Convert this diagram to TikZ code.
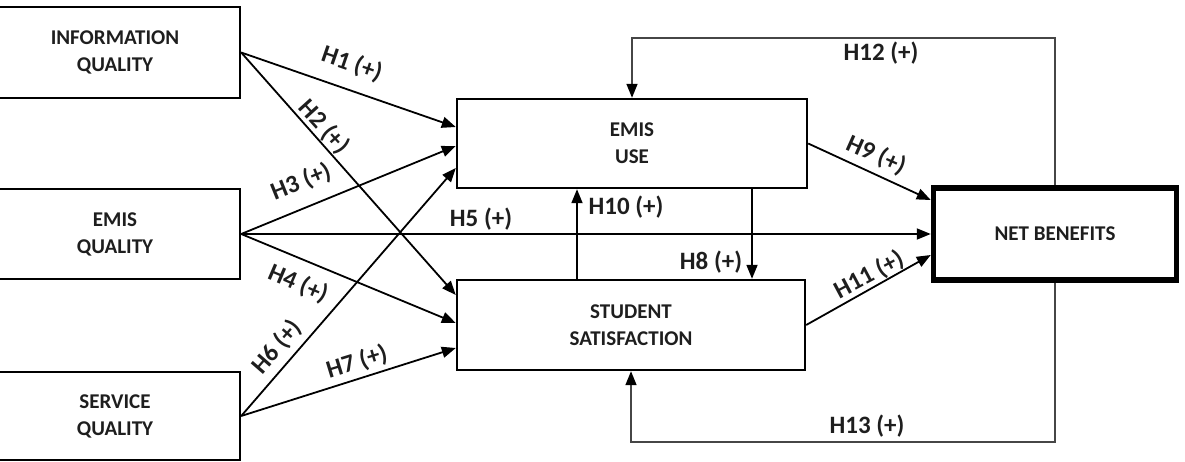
\documentclass[tikz,border=0pt]{standalone}
\usepackage{fontspec}
\setmainfont{Carlito}
\usetikzlibrary{arrows.meta,calc}
\definecolor{txt}{RGB}{30,30,30}
\definecolor{fbline}{RGB}{70,70,70}
\tikzset{
  box/.style={draw=black, line width=2.4pt, fill=white, rectangle, inner sep=0pt,
    align=center, text=txt, font=\fontsize{21}{27}\selectfont\bfseries},
  arr/.style={line width=1.8pt, -{Triangle[length=14pt,width=11pt]}},
  fb/.style={draw=fbline, line width=1.5pt, -{Triangle[length=14pt,width=11pt,fill=black,color=black]}},
  lbl/.style={text=txt, font=\fontsize{25}{28}\selectfont\bfseries, inner sep=0pt}
}
\begin{document}
\begin{tikzpicture}[x=1pt,y=-1pt]
\useasboundingbox (0,0) rectangle (1185,462);
% boxes
\node[box, minimum width=250pt, minimum height=91pt] (info) at (115,52.5) {INFORMATION\\QUALITY};
\node[box, minimum width=250pt, minimum height=90pt] (eq) at (115,234) {EMIS\\QUALITY};
\node[box, minimum width=250pt, minimum height=88pt] (sq) at (115,416) {SERVICE\\QUALITY};
\node[box, minimum width=350pt, minimum height=89pt] (use) at (632,143.5) {EMIS\\USE};
\node[box, minimum width=348pt, minimum height=90pt] (sat) at (631,325) {STUDENT\\SATISFACTION};
\node[box, line width=5.5pt, minimum width=243pt, minimum height=92pt] (net) at (1055,234) {NET BENEFITS};
% helper coordinates
\coordinate (h10x) at (577,0);
\coordinate (h8x) at (752,0);
\coordinate (tp) at (0,38);
\coordinate (bt) at (0,442);
% arrows into EMIS USE
\draw[arr] (info.east) -- ([yshift=16.5pt]use.west);
\draw[arr] (eq.east) -- ([yshift=-2.5pt]use.west);
\draw[arr] (sq.east) -- ([yshift=-24.5pt]use.west);
% arrows into STUDENT SATISFACTION
\draw[arr] (info.east) -- ([yshift=30pt]sat.west);
\draw[arr] (eq.east) -- ([yshift=2pt]sat.west);
\draw[arr] (sq.east) -- ([yshift=-23pt]sat.west);
% H5
\draw[arr] (eq.east) -- (net.west);
% H10, H8
\draw[arr] (sat.north -| h10x) -- (use.south -| h10x);
\draw[arr] (use.south -| h8x) -- (sat.north -| h8x);
% H9, H11
\draw[arr] (use.east) -- ([yshift=34pt]net.west);
\draw[arr] (sat.east) -- ([yshift=-21pt]net.west);
% feedback loops
\draw[fb] (net.north) -- (net.north |- tp) -| (use.north);
\draw[fb] (net.south) -- (net.south |- bt) -| (sat.south);
% labels
\node[lbl, rotate=-19] (l1) at (352,64) {H1 (+)};
\node[lbl, rotate=-48] (l2) at (324,127) {H2 (+)};
\node[lbl, rotate=22] (l3) at (301,182) {H3 (+)};
\node[lbl, rotate=-23] (l4) at (298,284) {H4 (+)};
\node[lbl] (l5) at (481,219) {H5 (+)};
\node[lbl, rotate=49] (l6) at (277,347) {H6 (+)};
\node[lbl, rotate=17] (l7) at (357,362) {H7 (+)};
\node[lbl] (l8) at (711,262) {H8 (+)};
\node[lbl, rotate=-24] (l9) at (876,155) {H9 (+)};
\node[lbl] (l10) at (626,207) {H10 (+)};
\node[lbl, rotate=28] (l11) at (869,275) {H11 (+)};
\node[lbl] (l12) at (881,53) {H12 (+)};
\node[lbl] (l13) at (867,426) {H13 (+)};
\end{tikzpicture}
\end{document}
